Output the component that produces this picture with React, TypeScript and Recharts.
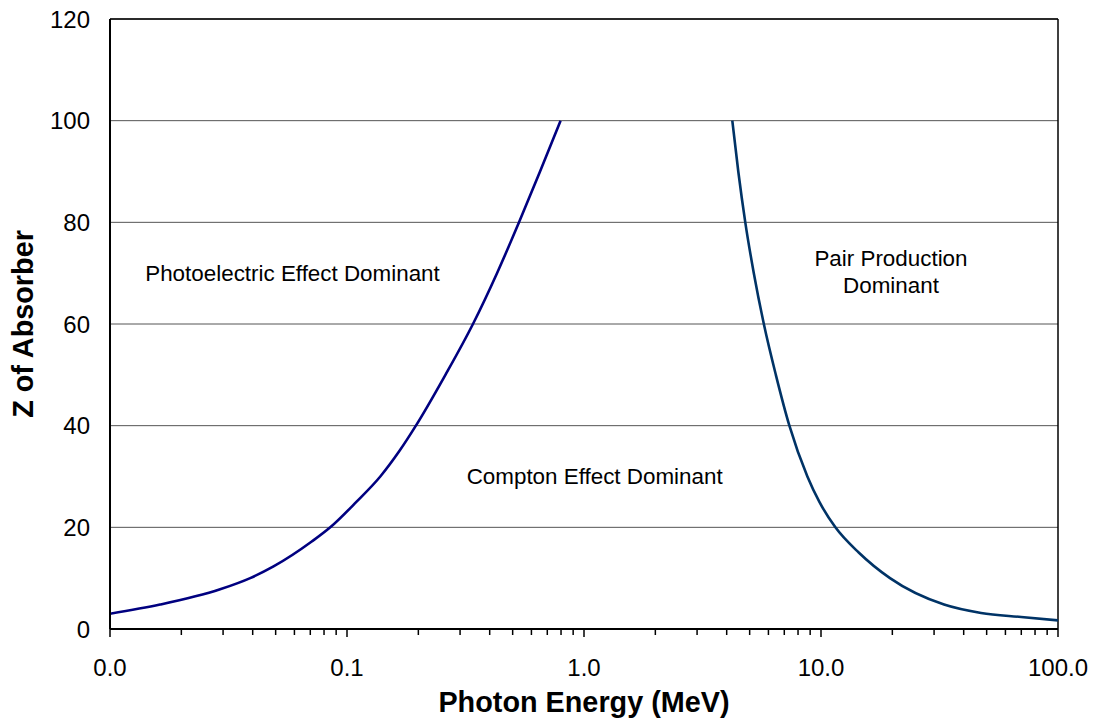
import React from 'react';
import { LineChart, Line, XAxis, YAxis, CartesianGrid, ReferenceLine, ReferenceDot, Label } from 'recharts';

// photoelectric / compton boundary (MeV, Z)
const photoEnergy = [0.01, 0.01626, 0.02915, 0.03904, 0.04897, 0.071, 0.085, 0.1095, 0.1382, 0.1663, 0.1953, 0.2602, 0.34, 0.4295, 0.5319, 0.6524, 0.7963];
const photoZ = [3.0, 4.8, 7.8, 10.0, 12.3, 17.2, 20, 25, 30, 35, 40, 50, 60, 70, 80, 90, 100];

// compton / pair production boundary (MeV, Z)
const pairEnergy = [4.224, 4.477, 4.792, 5.206, 5.739, 6.449, 7.355, 8.761, 9.845, 11.5, 14.46, 19.55, 33.05, 47.37, 69.9, 100];
const pairZ = [100, 90, 80, 70, 60, 50, 40, 30, 25, 20, 15, 10, 4.8, 3.15, 2.36, 1.7];

const majorTicks = [0.01, 0.1, 1, 10, 100];
const minorTicks = [
  0.02, 0.03, 0.04, 0.05, 0.06, 0.07, 0.08, 0.09,
  0.2, 0.3, 0.4, 0.5, 0.6, 0.7, 0.8, 0.9,
  2, 3, 4, 5, 6, 7, 8, 9,
  20, 30, 40, 50, 60, 70, 80, 90,
];
const yTicks = [0, 20, 40, 60, 80, 100, 120];

const FONT = '"Liberation Sans", Arial, sans-serif';

const photoData = photoEnergy.map((e, i) => ({ e, z: photoZ[i] }));
const pairData = pairEnergy.map((e, i) => ({ e, z: pairZ[i] }));
const allTicks = [...majorTicks, ...minorTicks].sort((a, b) => a - b);

const XTick = (props: any) => {
  const { x, y, payload } = props;
  const major = majorTicks.includes(payload.value);
  return (
    <g>
      <line x1={x} x2={x} y1={y} y2={y + (major ? 8 : 6)} stroke="#000" strokeWidth={1.5} />
      {major && (
        <text x={x} y={y + 38} dy="0.355em" textAnchor="middle" fontSize={24} fontFamily={FONT} fill="#000">
          {payload.value.toFixed(1)}
        </text>
      )}
    </g>
  );
};

const XTitle = (props: any) => {
  const { viewBox } = props;
  return (
    <text x={viewBox.x + viewBox.width / 2} y={712} textAnchor="middle" fontSize={28.8} fontWeight="bold" fontFamily={FONT} fill="#000">
      Photon Energy (MeV)
    </text>
  );
};

const YTitle = (props: any) => {
  const { viewBox } = props;
  const cy = viewBox.y + viewBox.height / 2;
  return (
    <text x={33} y={cy} transform={`rotate(-90, 33, ${cy})`} textAnchor="middle" fontSize={28.8} fontWeight="bold" fontFamily={FONT} fill="#000">
      Z of Absorber
    </text>
  );
};

const noteStyle = { fontSize: 22.4, fontFamily: FONT, fill: '#000' };

export default function App() {
  return (
    <div style={{ position: 'absolute', left: 0, top: 0, background: '#fff' }}>
      <LineChart width={1096} height={721} margin={{ top: 19, right: 38, bottom: 42, left: 0 }}>
        <CartesianGrid vertical={false} stroke="#555" strokeWidth={1} />
        <XAxis
          dataKey="e"
          type="number"
          scale="log"
          domain={[0.01, 100]}
          allowDataOverflow
          ticks={allTicks}
          interval={0}
          height={50}
          tickSize={0}
          tickMargin={0}
          tickLine={false}
          tick={<XTick />}
          axisLine={{ stroke: '#000', strokeWidth: 2 }}
        >
          <Label content={<XTitle />} />
        </XAxis>
        <YAxis
          type="number"
          domain={[0, 120]}
          ticks={yTicks}
          interval={0}
          width={110}
          tickSize={0}
          tickMargin={20}
          tickLine={false}
          tick={{ fontSize: 24, fontFamily: FONT, fill: '#000' }}
          axisLine={{ stroke: '#000', strokeWidth: 2 }}
        >
          <Label content={<YTitle />} />
        </YAxis>
        <ReferenceLine y={120} stroke="#000" strokeWidth={1.5} />
        <ReferenceLine x={100} stroke="#000" strokeWidth={1.5} />
        <Line data={photoData} dataKey="z" type="monotone" stroke="#000080" strokeWidth={2.6} dot={false} isAnimationActive={false} />
        <Line data={pairData} dataKey="z" type="monotone" stroke="#003366" strokeWidth={2.6} dot={false} isAnimationActive={false} />
        <ReferenceDot x={0.0589} y={70} r={1} fill="none" stroke="none" label={{ value: 'Photoelectric Effect Dominant', position: 'center', style: noteStyle }} />
        <ReferenceDot x={1.109} y={30} r={1} fill="none" stroke="none" label={{ value: 'Compton Effect Dominant', position: 'center', style: noteStyle }} />
        <ReferenceDot x={19.74} y={73} r={1} fill="none" stroke="none" label={{ value: 'Pair Production', position: 'center', style: noteStyle }} />
        <ReferenceDot x={19.74} y={67.7} r={1} fill="none" stroke="none" label={{ value: 'Dominant', position: 'center', style: noteStyle }} />
      </LineChart>
    </div>
  );
}
